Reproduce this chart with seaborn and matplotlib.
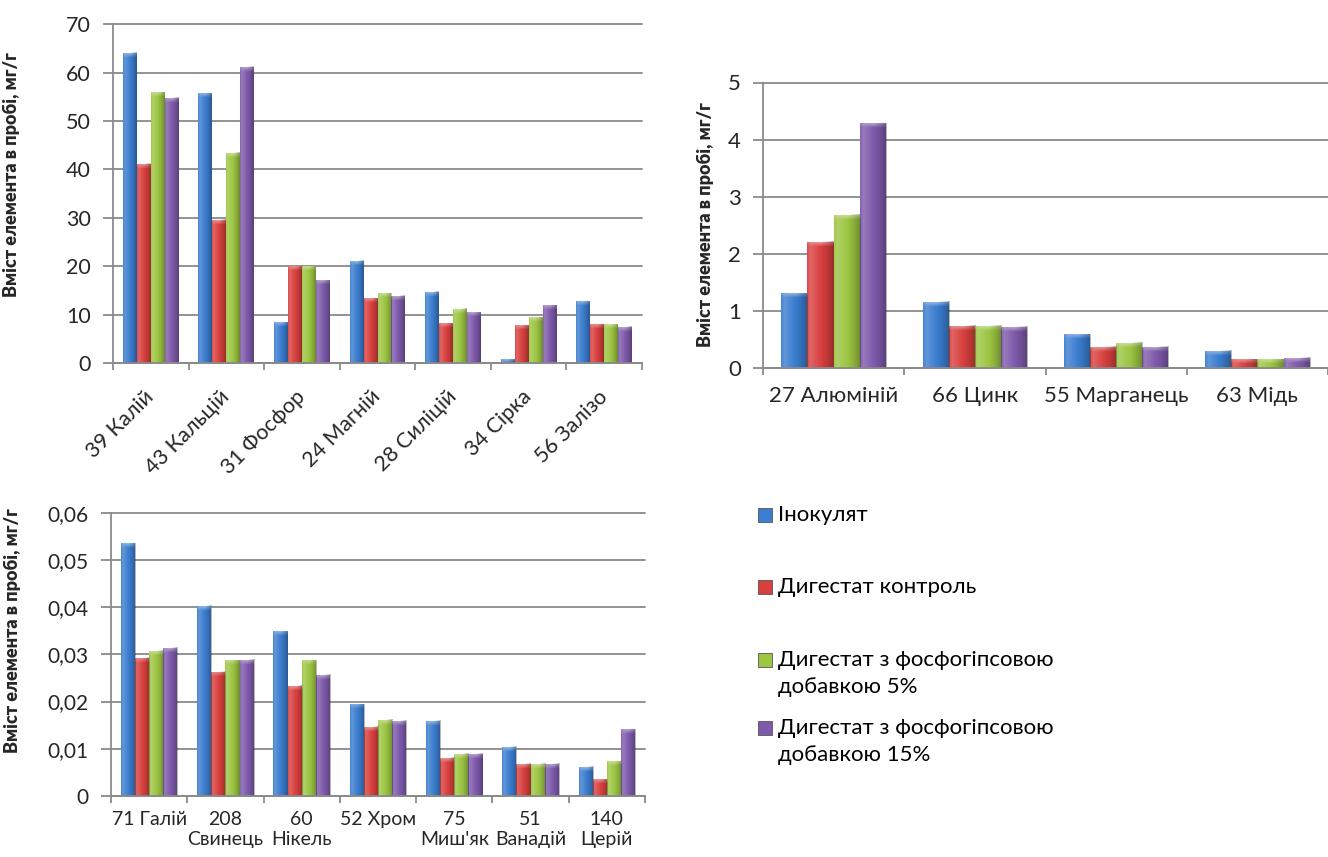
import numpy as np
import pandas as pd
import matplotlib
matplotlib.use("Agg")
import matplotlib.pyplot as plt
import seaborn as sns
from matplotlib.patches import Rectangle
from matplotlib.ticker import FuncFormatter

# ---- data -------------------------------------------------------------
series = [
    "Інокулят",
    "Дигестат контроль",
    "Дигестат з фосфогіпсовою\nдобавкою 5%",
    "Дигестат з фосфогіпсовою\nдобавкою 15%",
]
colors = ["#3b7dcf", "#d8403e", "#9cc542", "#7e5aab"]

macro_labels = ["39 Калій", "43 Кальцій", "31 Фосфор", "24 Магній",
                "28 Силіцій", "34 Сірка", "56 Залізо"]
macro_inoculum = [64.1, 55.7, 8.4, 21.1, 14.7, 0.8, 12.8]
macro_control = [41.2, 29.6, 20.0, 13.4, 8.2, 7.8, 8.0]
macro_pg5 = [56.0, 43.5, 20.0, 14.4, 11.2, 9.5, 8.0]
macro_pg15 = [54.8, 61.2, 17.1, 13.9, 10.5, 11.9, 7.5]

micro_labels = ["27 Алюміній", "66 Цинк", "55 Марганець", "63 Мідь"]
micro_inoculum = [1.31, 1.16, 0.59, 0.30]
micro_control = [2.21, 0.74, 0.37, 0.15]
micro_pg5 = [2.68, 0.74, 0.44, 0.15]
micro_pg15 = [4.29, 0.72, 0.37, 0.18]

trace_labels = ["71 Галій", "208\nСвинець", "60\nНікель", "52 Хром",
                "75\nМиш'як", "51\nВанадій", "140\nЦерій"]
trace_inoculum = [0.0535, 0.0403, 0.0349, 0.0194, 0.0159, 0.0104, 0.0062]
trace_control = [0.0293, 0.0263, 0.0233, 0.0147, 0.0081, 0.0068, 0.0036]
trace_pg5 = [0.0308, 0.0287, 0.0287, 0.0162, 0.0089, 0.0068, 0.0074]
trace_pg15 = [0.0314, 0.0289, 0.0257, 0.0159, 0.0089, 0.0068, 0.0141]

y_label = "Вміст елемента в пробі, мг/г"

# ---- style ------------------------------------------------------------
sns.set_style("white")
plt.rcParams["font.family"] = ["Lato", "DejaVu Sans"]
plt.rcParams["text.color"] = "#000000"
GRID = "#8a8a8a"
W, H = 1328, 857


def long_frame(labels, *values):
    n = len(labels)
    return pd.DataFrame({
        "element": list(labels) * len(values),
        "series": np.repeat(series, n),
        "value": np.concatenate(values),
    })


def shade_bars(ax, ymax, height_px):
    # cylindrical shading across each bar plus a light bevel on its top
    t = np.linspace(0, 1, 64)
    prof = np.interp(t, [0, 0.12, 0.4, 0.75, 1.0], [0.05, 0.2, 0.06, -0.12, -0.3])
    body = np.zeros((1, 64, 4))
    body[0, :, :3] = (prof > 0)[:, None].astype(float)
    body[0, :, 3] = np.abs(prof)
    cap = np.ones((6, 64, 4))
    v = np.linspace(0.45, 0.0, 6)[:, None]
    bump = 1 - np.abs(t - 0.5)[None, :] * 1.2
    cap[..., 3] = np.clip(v * bump, 0, 1)
    cap_h = 5 * ymax / height_px
    for cont in ax.containers:
        for bar in cont:
            x0, w, h = bar.get_x(), bar.get_width(), bar.get_height()
            z = bar.get_zorder()
            ax.imshow(body, extent=(x0, x0 + w, 0, h), aspect="auto",
                      interpolation="bilinear", zorder=z + 0.01)
            ch = min(cap_h, h)
            ax.imshow(cap, extent=(x0, x0 + w, h - ch, h), aspect="auto",
                      interpolation="bilinear", zorder=z + 0.02)


def draw_panel(box, labels, values, ymax, ystep, fmt, label_xy, ysize):
    left, top, right, bottom = box
    ax = fig.add_axes([left / W, 1 - bottom / H, (right - left) / W,
                       (bottom - top) / H])
    df = long_frame(labels, *values)
    sns.barplot(data=df, x="element", y="value", hue="series", order=labels,
                hue_order=series, palette=colors, width=0.74, saturation=1,
                errorbar=None, legend=False, linewidth=0, ax=ax)
    shade_bars(ax, ymax, bottom - top)
    n = len(labels)
    ax.set_xlim(-0.5, n - 0.5)
    ax.set_ylim(0, ymax)
    ax.set_yticks(np.arange(0, ymax + ystep / 2, ystep))
    ax.yaxis.set_major_formatter(FuncFormatter(fmt))
    ax.yaxis.grid(True, color=GRID, lw=1.3)
    for gl in ax.get_ygridlines():
        gl.set_clip_on(False)
    ax.set_axisbelow(True)
    for s in ("top", "right"):
        ax.spines[s].set_visible(False)
    for s in ("left", "bottom"):
        ax.spines[s].set_color(GRID)
        ax.spines[s].set_linewidth(1.3)
    ax.tick_params(axis="y", length=7, width=1.3, color=GRID, pad=9,
                   labelsize=ysize, left=True)
    ax.set_xticks(np.arange(-0.5, n), minor=True)
    ax.tick_params(axis="x", which="minor", length=5, width=1.3, color=GRID,
                   bottom=True)
    ax.tick_params(axis="x", which="major", length=0)
    ax.set_xlabel("")
    ax.set_ylabel(y_label, fontsize=13, fontweight="heavy")
    ax.yaxis.set_label_coords(*label_xy)
    return ax


fig = plt.figure(figsize=(W / 100, H / 100), dpi=100)


def int_fmt(v, _):
    return f"{v:.0f}"


def comma_fmt(v, _):
    return "0" if v == 0 else f"{v:.2f}".replace(".", ",")


ax1 = draw_panel((113, 24.3, 642, 363), macro_labels,
                 [macro_inoculum, macro_control, macro_pg5, macro_pg15],
                 70, 10, int_fmt, (-0.176, 0.555), 15.5)
ax1.set_xticks(range(len(macro_labels)))
ax1.set_xticklabels(macro_labels, rotation=45, ha="right", va="center",
                    rotation_mode="anchor", fontsize=15.5)
ax1.tick_params(axis="x", which="major", pad=22)

ax2 = draw_panel((763, 82.5, 1328, 368), micro_labels,
                 [micro_inoculum, micro_control, micro_pg5, micro_pg15],
                 5, 1, int_fmt, (-0.087, 0.504), 16)
ax2.tick_params(axis="x", which="major", pad=13, labelsize=16)

ax3 = draw_panel((111, 512.7, 645, 796), trace_labels,
                 [trace_inoculum, trace_control, trace_pg5, trace_pg15],
                 0.06, 0.01, comma_fmt, (-0.1685, 0.584), 15)
ax3.tick_params(axis="x", which="major", pad=11, labelsize=14)
for t in ax3.get_xticklabels():
    t.set_linespacing(1.2)

# ---- legend -----------------------------------------------------------
legend_rows = [515, 587, 660, 728]
for name, col, yc in zip(series, colors, legend_rows):
    fig.add_artist(Rectangle((758 / W, 1 - (yc + 7) / H), 14 / W, 14 / H,
                             transform=fig.transFigure, facecolor=col,
                             edgecolor="#555555", linewidth=0.6))
    for i, line in enumerate(name.split("\n")):
        fig.text(778 / W, 1 - (yc + 27 * i) / H, line, fontsize=16,
                 va="center", ha="left")

fig.savefig("out.png", dpi=100)
